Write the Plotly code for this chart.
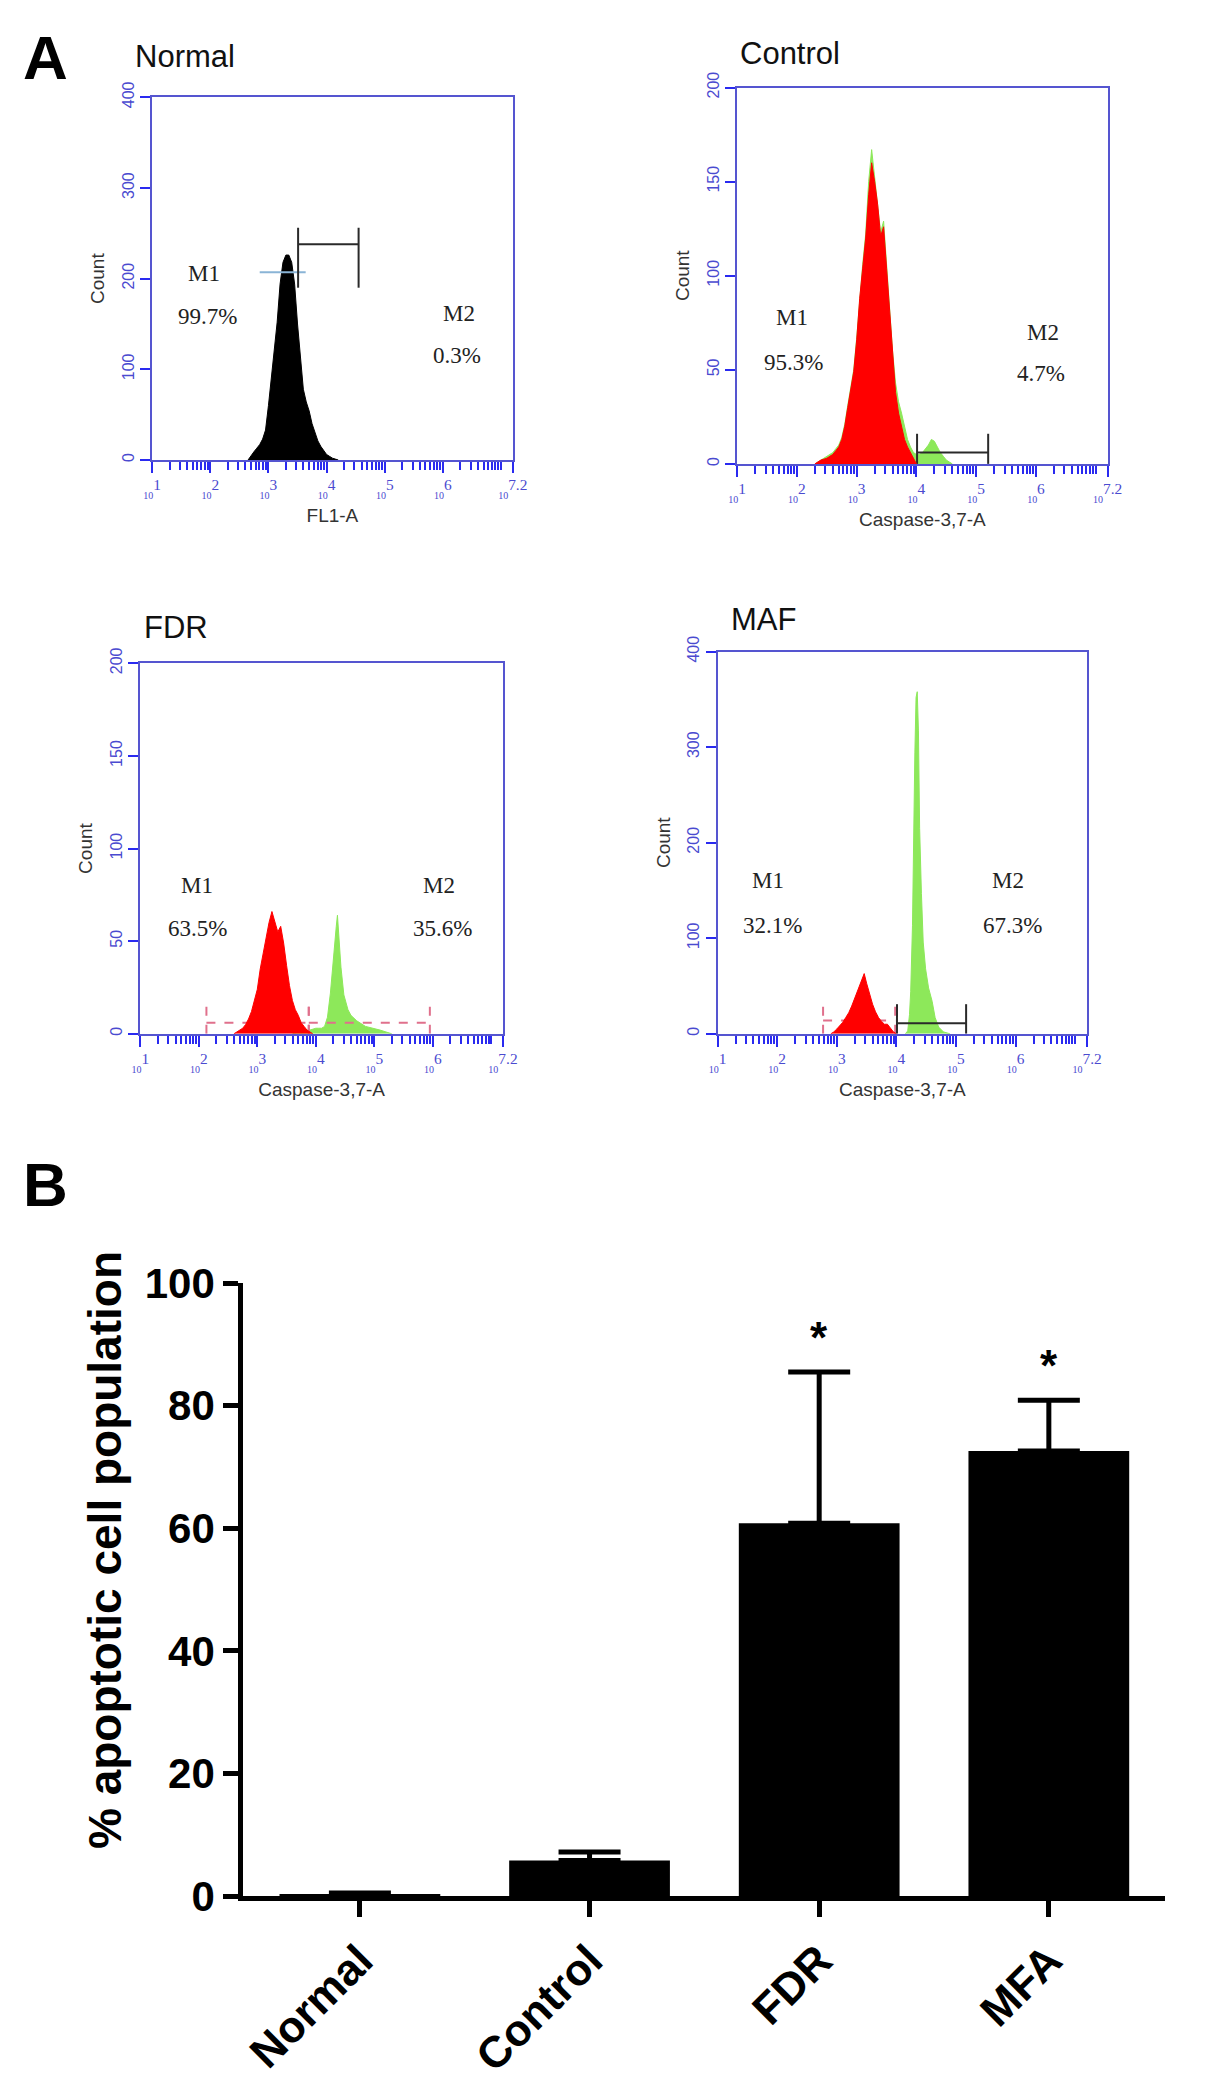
import plotly.graph_objects as go

W, H = 1205, 2095

# ---------------- panel A: flow histograms (log10 intensity -> count) ----------------
normal_log = [2.65, 2.70, 2.75, 2.80, 2.85, 2.90, 2.95, 3.00, 3.05, 3.10, 3.15, 3.20, 3.25, 3.30, 3.35,
              3.40, 3.45, 3.50, 3.55, 3.60, 3.65, 3.70, 3.75, 3.80, 3.85, 3.90, 3.95, 4.00, 4.05, 4.10,
              4.15, 4.20]
normal_count = [0, 5, 9, 13, 17, 23, 33, 60, 90, 120, 152, 194, 218, 226, 226,
                218, 194, 150, 112, 78, 64, 54, 40, 30, 21, 15, 10, 6, 4, 2,
                1, 0]

control_red_log = [2.30, 2.35, 2.40, 2.45, 2.50, 2.55, 2.60, 2.65, 2.70, 2.75, 2.80, 2.85, 2.90, 2.95,
                   3.00, 3.05, 3.10, 3.15, 3.20, 3.25, 3.30, 3.35, 3.40, 3.45, 3.50, 3.55, 3.60, 3.65,
                   3.70, 3.75, 3.80, 3.85, 3.90, 3.95, 4.00]
control_red_count = [0, 1, 2, 2.5, 3, 4, 5, 7, 9, 13, 20, 30, 40, 49,
                     66, 88, 104, 120, 143, 160, 150, 138, 121, 126, 104, 80, 56, 38,
                     27, 20, 13, 9, 6, 3, 0]
control_green_log = [2.30, 2.35, 2.40, 2.45, 2.50, 2.55, 2.60, 2.65, 2.70, 2.75, 2.80, 2.85, 2.90, 2.95,
                     3.00, 3.05, 3.10, 3.15, 3.20, 3.25, 3.30, 3.35, 3.40, 3.45, 3.50, 3.55, 3.60, 3.65,
                     3.70, 3.75, 3.80, 3.85, 3.90, 3.95, 4.00, 4.05, 4.10, 4.15, 4.20, 4.25, 4.30, 4.35,
                     4.40, 4.45, 4.50, 4.55, 4.60]
control_green_count = [0, 1, 2, 3, 4, 5, 6, 8, 10, 14, 21, 31, 41, 50,
                       67, 89, 106, 122, 150, 167, 152, 140, 123, 129, 106, 83, 60, 43,
                       33, 27, 19, 13, 9, 6, 5, 5, 6, 8, 10, 13, 12, 9,
                       6, 4, 2, 1, 0]

fdr_red_log = [2.60, 2.65, 2.70, 2.75, 2.80, 2.85, 2.90, 2.95, 3.00, 3.05, 3.10, 3.15, 3.20, 3.25,
               3.30, 3.35, 3.40, 3.45, 3.50, 3.55, 3.60, 3.65, 3.70, 3.75, 3.80, 3.85, 3.90, 3.95]
fdr_red_count = [0, 1, 2, 3, 5, 8, 12, 18, 24, 35, 44, 53, 60, 66,
                 60, 55, 58, 49, 37, 26, 18, 13, 10, 6, 4, 2, 1, 0]
fdr_green_log = [3.60, 3.70, 3.80, 3.90, 4.00, 4.05, 4.10, 4.15, 4.20, 4.25, 4.30, 4.35,
                 4.37, 4.40, 4.43, 4.48, 4.55, 4.60, 4.70, 4.85, 5.00, 5.10, 5.20, 5.30]
fdr_green_count = [0, 1, 2, 2, 3, 3, 3, 4, 9, 22, 42, 58,
                   64, 51, 36, 21, 13, 10, 7, 4, 3, 2, 1, 0]

maf_red_log = [2.90, 2.95, 3.00, 3.05, 3.10, 3.15, 3.20, 3.25, 3.30, 3.35, 3.40, 3.43,
               3.46, 3.50, 3.55, 3.60, 3.65, 3.70, 3.75, 3.80, 3.85, 3.90, 3.95, 4.00]
maf_red_count = [0, 2, 5, 8, 12, 17, 22, 29, 37, 44, 53, 58,
                 63, 53, 42, 31, 23, 17, 13, 10, 10, 6, 2, 0]
maf_green_log = [4.15, 4.19, 4.22, 4.24, 4.27, 4.29, 4.31, 4.33, 4.35, 4.37,
                 4.39, 4.42, 4.45, 4.49, 4.54, 4.60, 4.65, 4.71, 4.79, 4.90]
maf_green_count = [0, 3, 20, 44, 113, 215, 294, 352, 358, 317,
                   215, 147, 96, 68, 48, 34, 17, 7, 2, 0]

# marker gates: start, end (log10), bar level, vertical bottom, vertical top (counts)
normal_m1_gate = [2.85, 3.64, 207, 207, 207]
normal_m2_gate = [3.51, 4.55, 238, 190, 256]
control_m2_gate = [4.01, 5.20, 6, 0, 16]
fdr_m1_gate = [2.13, 3.88, 6, 0, 15]
fdr_m2_gate = [3.88, 5.95, 6, 0, 15]
maf_m1_gate = [2.77, 3.98, 14, 0, 32]
maf_m2_gate = [4.01, 5.17, 11, 0, 31]

sample_names = ["Normal", "Control", "FDR", "MAF"]
channel_names = ["FL1-A", "Caspase-3,7-A", "Caspase-3,7-A", "Caspase-3,7-A"]
count_max = [400, 200, 200, 400]
count_step = [100, 50, 50, 100]
m1_percent = ["99.7%", "95.3%", "63.5%", "32.1%"]
m2_percent = ["0.3%", "4.7%", "35.6%", "67.3%"]
decade_ticks = [1, 2, 3, 4, 5, 6, 7.2]

# ---------------- panel B: bar chart ----------------
groups = ["Normal", "Control", "FDR", "MFA"]
apoptotic_mean = [0.3, 5.8, 60.8, 72.6]
apoptotic_err = [0.2, 1.4, 24.7, 8.3]
significant = [False, False, True, True]

BOX_BLUE = "#5555d0"
TICK_BLUE = "#2a2af0"
LABEL_BLUE = "#4a4ad0"
RED = "#ff0000"
GREEN = "#8de85a"
PINK = "#e0708c"
GATE_DARK = "#2a2a2a"


def xdom(left, right):
    return [left / W, right / W]


def ydom(top, bottom):
    return [1 - bottom / H, 1 - top / H]


def hist_trace(logs, counts, color, n):
    return go.Scatter(
        x=[10 ** v for v in logs], y=counts, mode="lines", fill="tozeroy",
        fillcolor=color, line=dict(color=color, width=1),
        xaxis=f"x{n}", yaxis=f"y{n}", showlegend=False, hoverinfo="skip",
    )


def gate_trace(gate, color, dash, n, width=2):
    lo, hi, level, bottom, top = gate
    xs = [10 ** lo, 10 ** lo, None, 10 ** lo, 10 ** hi, None, 10 ** hi, 10 ** hi]
    ys = [bottom, top, None, level, level, None, bottom, top]
    return go.Scatter(
        x=xs, y=ys, mode="lines", line=dict(color=color, width=width, dash=dash),
        xaxis=f"x{n}", yaxis=f"y{n}", showlegend=False, hoverinfo="skip",
    )


fig = go.Figure()

# Normal (axis 1)
fig.add_trace(hist_trace(normal_log, normal_count, "black", 1))
fig.add_trace(gate_trace(normal_m1_gate, "#8ab4d6", "solid", 1))
fig.add_trace(gate_trace(normal_m2_gate, GATE_DARK, "solid", 1))
# Control (axis 2)
fig.add_trace(hist_trace(control_green_log, control_green_count, GREEN, 2))
fig.add_trace(gate_trace(control_m2_gate, GATE_DARK, "solid", 2))
fig.add_trace(hist_trace(control_red_log, control_red_count, RED, 2))
# FDR (axis 3)
fig.add_trace(hist_trace(fdr_green_log, fdr_green_count, GREEN, 3))
fig.add_trace(gate_trace(fdr_m1_gate, PINK, "dash", 3))
fig.add_trace(gate_trace(fdr_m2_gate, PINK, "dash", 3))
fig.add_trace(hist_trace(fdr_red_log, fdr_red_count, RED, 3))
# MAF (axis 4)
fig.add_trace(hist_trace(maf_green_log, maf_green_count, GREEN, 4))
fig.add_trace(gate_trace(maf_m1_gate, PINK, "dash", 4))
fig.add_trace(gate_trace(maf_m2_gate, GATE_DARK, "solid", 4))
fig.add_trace(hist_trace(maf_red_log, maf_red_count, RED, 4))

# bar chart (axis 5)
fig.add_trace(go.Bar(
    x=groups, y=apoptotic_mean, width=0.7, marker=dict(color="black", line=dict(width=0)),
    error_y=dict(type="data", symmetric=False, array=apoptotic_err,
                 arrayminus=[0] * len(groups), color="black", thickness=5, width=31),
    xaxis="x5", yaxis="y5", showlegend=False,
))

# panel boxes in pixels: left, right, top, bottom
boxes = [(146, 514, 76, 447), (743, 1121, 66, 451), (134, 504, 655, 1034), (723, 1100, 643, 1034)]
title_pos = [(127, 34), (744, 31), (136, 618), (735, 610)]
label_pos = [
    [(1.89, 206), (1.95, 158), (6.27, 162), (6.24, 115)],
    [(1.91, 78), (1.94, 54), (6.12, 70), (6.09, 48)],
    [(1.97, 80), (1.97, 57), (6.10, 80), (6.16, 57)],
    [(1.85, 160), (1.92, 113), (5.87, 160), (5.94, 113)],
]

layout = dict(
    width=W, height=H, margin=dict(l=0, r=0, t=0, b=0),
    paper_bgcolor="white", plot_bgcolor="white",
    font=dict(family="Liberation Sans, Arial, sans-serif", color="black"),
)
annotations = []

for i, name in enumerate(sample_names):
    n = i + 1
    left, right, top, bottom = boxes[i]
    sfx = "" if n == 1 else str(n)
    layout["xaxis" + sfx] = dict(
        domain=xdom(left, right), anchor="y" + sfx, type="log", range=[1, 7.2],
        showline=True, mirror=True, linecolor=BOX_BLUE, linewidth=2,
        showgrid=False, zeroline=False,
        tickmode="array", tickvals=[10 ** v for v in decade_ticks],
        ticktext=[f"<span style='font-size:10px'>10</span><sup>{v}</sup>" for v in decade_ticks],
        ticks="outside", ticklen=11, tickwidth=1.5, tickcolor=TICK_BLUE,
        tickfont=dict(size=22, color=LABEL_BLUE, family="Liberation Serif, serif"),
        minor=dict(dtick="D1", ticks="outside", ticklen=8, tickwidth=1.5,
                   tickcolor=TICK_BLUE, showgrid=False),
        title=dict(text=channel_names[i], standoff=8,
                   font=dict(size=19, color="#333333")),
    )
    layout["yaxis" + sfx] = dict(
        domain=ydom(top, bottom), anchor="x" + sfx, range=[0, count_max[i]],
        showline=True, mirror=True, linecolor=BOX_BLUE, linewidth=2,
        showgrid=False, zeroline=False,
        tickmode="array", tickvals=list(range(0, count_max[i] + 1, count_step[i])),
        tickangle=-90, ticks="outside", ticklen=10, tickwidth=1.5, tickcolor=TICK_BLUE,
        tickfont=dict(size=16, color=LABEL_BLUE),
        title=dict(text="Count", standoff=10, font=dict(size=19, color="#333333")),
    )
    tx, ty = title_pos[i]
    annotations.append(dict(text=name, x=tx / W, y=1 - ty / H, xref="paper", yref="paper",
                            xanchor="left", yanchor="middle", showarrow=False,
                            font=dict(size=31, color="#111111")))
    texts = ["M1", m1_percent[i], "M2", m2_percent[i]]
    for (lx, ly), txt in zip(label_pos[i], texts):
        annotations.append(dict(text=txt, x=lx, y=ly, xref="x" + sfx, yref="y" + sfx,
                                showarrow=False, xanchor="center", yanchor="middle",
                                font=dict(size=23, color="#222222",
                                          family="Liberation Serif, Times New Roman, serif")))

layout["xaxis5"] = dict(
    domain=xdom(239, 1180), anchor="y5", type="category", range=[-0.508, 3.508],
    showline=True, linecolor="black", linewidth=5, showgrid=False, zeroline=False,
    ticks="outside", ticklen=16, tickwidth=5, tickcolor="black", tickangle=-45,
    tickfont=dict(size=44, color="black", weight="bold"),
)
layout["yaxis5"] = dict(
    domain=ydom(1289, 1916), anchor="x5", range=[0, 100],
    showline=True, linecolor="black", linewidth=5, showgrid=False, zeroline=False,
    tickmode="array", tickvals=[0, 20, 40, 60, 80, 100],
    ticks="outside", ticklen=15, tickwidth=5, tickcolor="black",
    tickfont=dict(size=42, color="black", weight="bold"),
)
# y title of panel B sits a little above the axis centre in the original
annotations.append(dict(text="% apoptotic cell population", textangle=-90,
                        x=98 / W, y=1 - 1562 / H, xref="paper", yref="paper",
                        xanchor="center", yanchor="middle", showarrow=False,
                        font=dict(size=46, color="black", weight="bold")))

for g, m, e, s in zip(groups, apoptotic_mean, apoptotic_err, significant):
    if s:
        annotations.append(dict(text="*", x=g, y=m + e, xref="x5", yref="y5", showarrow=False,
                                xanchor="center", yanchor="bottom", yshift=8,
                                font=dict(size=44, color="black", weight="bold")))

for letter, ly in (("A", 35), ("B", 1188)):
    annotations.append(dict(text=letter, x=12 / W, y=1 - ly / H, xref="paper", yref="paper",
                            xanchor="left", yanchor="middle", showarrow=False,
                            font=dict(size=62, color="black", weight="bold")))

layout["annotations"] = annotations
fig.update_layout(**layout)

fig.write_html("out.html", config={"displayModeBar": False},
               post_script="document.body.style.margin = '0';")
